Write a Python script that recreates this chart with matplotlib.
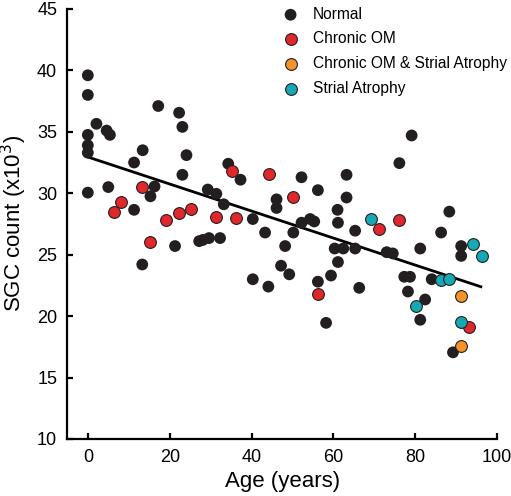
import matplotlib

matplotlib.use("Agg")
import matplotlib.pyplot as plt  # noqa: E402
import numpy as np  # noqa: E402

plt.rcParams["font.family"] = ["Liberation Sans", "DejaVu Sans"]

# Normal (preto)
normal_age = [0, 0, 2.1, 4.6, 5.4, 0, 0, 0, 0, 5.0, 11.3, 13.4, 17.2, 22.3, 23.1,
              24.1, 23.1, 11.3, 13.3, 16.3, 15.3, 21.3, 27.2, 29.3, 31.4, 33.2, 34.3,
              37.3, 40.3, 43.3, 46.1, 46.1, 48.2, 50.2, 52.2, 54.3, 55.3, 52.2, 56.2,
              28.1, 29.6, 32.3, 47.2, 49.2, 40.3, 44.1, 56.2, 58.2, 59.4, 60.3, 61.1,
              62.4, 61.0, 61.1, 63.2, 63.2, 65.3, 65.3, 66.3, 73.0, 74.5, 76.1, 79.1,
              81.2, 77.3, 78.7, 78.2, 84.0, 82.4, 81.2, 86.3, 88.3, 91.2, 91.2, 89.2]
normal_sgc = [39.6, 38.0, 35.65, 35.1, 34.75, 34.75, 33.9, 33.3, 30.05, 30.5, 32.5,
              33.5, 37.1, 36.55, 35.4, 33.1, 31.5, 28.65, 24.2, 30.55, 29.75, 25.7,
              26.1, 30.3, 29.95, 29.1, 32.4, 31.1, 27.9, 26.8, 29.5, 28.8, 25.7, 26.8,
              31.3, 27.9, 27.7, 27.6, 30.25, 26.2, 26.35, 26.35, 24.1, 23.4, 23.0, 22.4,
              22.8, 19.45, 23.3, 25.5, 24.4, 25.5, 28.65, 27.6, 31.5, 29.65, 26.95, 25.5,
              22.3, 25.2, 25.1, 32.45, 34.7, 25.5, 23.2, 23.2, 22.0, 23.0, 21.35, 19.7,
              26.8, 28.5, 25.7, 24.9, 17.05]

# Chronic OM (vermelho)
om_age = [6.4, 8.2, 13.2, 15.3, 19.2, 22.3, 25.3, 31.3, 35.2, 36.2, 44.3, 50.2,
          56.2, 71.2, 76.0, 93.2]
om_sgc = [28.5, 29.3, 30.5, 26.0, 27.85, 28.4, 28.7, 28.1, 31.8, 28.0, 31.6, 29.7,
          21.8, 27.1, 27.8, 19.1]

# Chronic OM & Strial Atrophy (laranja)
om_sa_age = [91.2, 91.2]
om_sa_sgc = [21.6, 17.6]

# Strial Atrophy (ciano)
sa_age = [69.2, 80.2, 86.3, 88.3, 94.2, 96.3, 91.2]
sa_sgc = [27.9, 20.85, 22.9, 23.0, 25.9, 24.9, 19.5]

# Reta de regressão
FIT_INTERCEPT = 32.95
FIT_SLOPE = -0.110
FIT_RANGE = [0, 96]

fig = plt.figure(figsize=(5.11, 4.96), dpi=100)
ax = fig.add_axes([0.131, 0.115, 0.842, 0.867])

xs = np.array(FIT_RANGE)
ax.plot(xs, FIT_INTERCEPT + FIT_SLOPE * xs, color="black", lw=2, zorder=1)

kw = dict(s=72, zorder=3)
ax.scatter(normal_age, normal_sgc, color="#231f20", edgecolor="none", label="Normal", **kw)
ax.scatter(om_age, om_sgc, color="#e0272b", edgecolor="#231f20", linewidth=0.8,
           label="Chronic OM", **kw)
ax.scatter(om_sa_age, om_sa_sgc, color="#f5922a", edgecolor="#231f20", linewidth=0.8,
           label="Chronic OM & Strial Atrophy", **kw)
ax.scatter(sa_age, sa_sgc, color="#17a8b5", edgecolor="#231f20", linewidth=0.8,
           label="Strial Atrophy", **kw)

ax.set_xlim(-5.1, 100)
ax.set_ylim(10, 45)
ax.set_xticks(range(0, 101, 20))
ax.set_yticks(range(10, 46, 5))
for s in ("top", "right"):
    ax.spines[s].set_visible(False)
for s in ("left", "bottom"):
    ax.spines[s].set_linewidth(1.6)
ax.tick_params(direction="in", length=4, width=1.6, labelsize=13, pad=7)
ax.set_xlabel("Age (years)", fontsize=16, labelpad=4)
ax.set_ylabel("SGC count (x10$^3$)", fontsize=16, labelpad=6)

ax.legend(loc="upper left", bbox_to_anchor=(0.48, 1.023), frameon=False, fontsize=11.2,
          handletextpad=0.85, labelspacing=0.62, borderpad=0, handlelength=1.2,
          markerscale=1.0)

fig.savefig("out.png", dpi=100)
